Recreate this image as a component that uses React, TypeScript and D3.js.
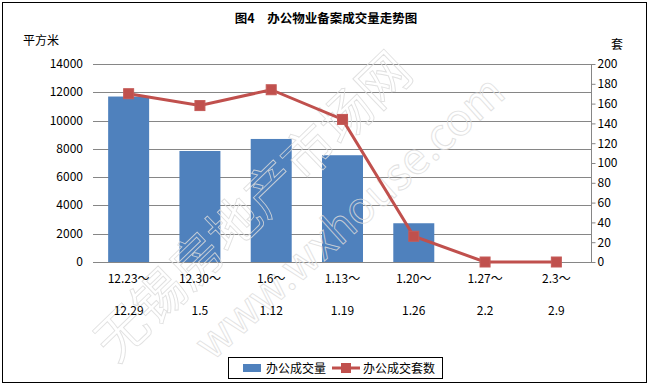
import React, { useEffect, useRef } from 'react';
import * as d3 from 'd3';

// data
const labelsTop = ['12.23～', '12.30～', '1.6～', '1.13～', '1.20～', '1.27～', '2.3～'];
const labelsBottom = ['12.29', '1.5', '1.12', '1.19', '1.26', '2.2', '2.9'];
const areaValues = [11700, 7850, 8700, 7550, 2740, 0, 0];
const unitValues = [170, 158, 174, 144, 26, 0, 0];
const leftTicks = [0, 2000, 4000, 6000, 8000, 10000, 12000, 14000];
const rightTicks = [0, 20, 40, 60, 80, 100, 120, 140, 160, 180, 200];

const W = 650, H = 386;
const FONT = '"Noto Sans CJK SC", "DejaVu Sans", sans-serif';
const BLUE = '#4F81BD', RED = '#C0504D';

const App = () => {
  const ref = useRef<SVGSVGElement>(null);

  useEffect(() => {
    document.body.style.margin = '0';
    const svg = d3.select(ref.current);
    svg.selectAll('*').remove();

    const left = 93, right = 592, top = 64, bottom = 262;
    const x = d3.scaleBand<number>().domain(d3.range(labelsTop.length)).range([left, right])
      .paddingInner(0.425).paddingOuter(0.2125);
    const yL = d3.scaleLinear().domain([0, 14000]).range([bottom, top]);
    const yR = d3.scaleLinear().domain([0, 200]).range([bottom, top]);
    const cx = (i: number) => x(i)! + x.bandwidth() / 2;

    svg.append('rect').attr('x', 0).attr('y', 0).attr('width', W).attr('height', H).attr('fill', '#fff');
    svg.append('rect').attr('x', 2.5).attr('y', 2.5).attr('width', 644).attr('height', 380)
      .attr('fill', 'none').attr('stroke', '#000').attr('stroke-width', 1);

    // title & units
    svg.append('text').attr('x', 326).attr('y', 23).attr('text-anchor', 'middle')
      .attr('font-family', FONT).attr('font-size', 12.5).attr('font-weight', 'bold')
      .text('图4　办公物业备案成交量走势图');
    svg.append('text').attr('x', 23).attr('y', 45).attr('font-family', FONT).attr('font-size', 12).text('平方米');
    svg.append('text').attr('x', 611).attr('y', 49).attr('font-family', FONT).attr('font-size', 12).text('套');

    // gridlines
    svg.append('g').selectAll('line').data(leftTicks).enter().append('line')
      .attr('x1', left).attr('x2', right)
      .attr('y1', d => Math.round(yL(d)) + 0.5).attr('y2', d => Math.round(yL(d)) + 0.5)
      .attr('stroke', '#868686').attr('stroke-width', 1);

    // left axis labels
    svg.append('g').selectAll('text').data(leftTicks).enter().append('text')
      .attr('x', 83).attr('y', d => yL(d) + 4).attr('text-anchor', 'end')
      .attr('font-family', FONT).attr('font-size', 12).text(d => d);

    // right axis
    const ra = svg.append('g').attr('transform', `translate(${right - 0.5},0)`)
      .call(d3.axisRight(yR).tickValues(rightTicks).tickSize(4).tickPadding(2));
    ra.selectAll('path,line').attr('stroke', '#868686');
    ra.select('.domain').attr('d', `M0,${top}V${bottom}`);
    ra.selectAll('text').attr('font-family', FONT).attr('font-size', 12).attr('fill', '#000');

    // bars
    svg.append('g').selectAll('rect').data(areaValues).enter().append('rect')
      .attr('x', (d, i) => x(i)!).attr('width', x.bandwidth())
      .attr('y', d => yL(d)).attr('height', d => bottom - yL(d)).attr('fill', BLUE);

    // watermark (hollow, faint)
    const wm = svg.append('g').attr('fill', 'none').attr('stroke', '#dcdcdc').attr('stroke-width', 0.9)
      .attr('opacity', 0.85).attr('font-family', FONT);
    wm.append('text').attr('transform', 'translate(116,364) rotate(-44)')
      .attr('font-size', 52).text('无锡房地产市场网');
    wm.append('text').attr('transform', 'translate(212,362) rotate(-42)')
      .attr('font-size', 44).text('www.wxhouse.com');

    // line
    const line = d3.line<number>().x((d, i) => cx(i)).y(d => yR(d));
    svg.append('path').datum(unitValues).attr('d', line).attr('fill', 'none')
      .attr('stroke', RED).attr('stroke-width', 3);
    svg.append('g').selectAll('rect').data(unitValues).enter().append('rect')
      .attr('x', (d, i) => cx(i) - 5).attr('y', d => yR(d) - 5).attr('width', 10).attr('height', 10)
      .attr('fill', RED).attr('stroke', '#c55b58').attr('stroke-width', 1);

    // x labels
    const xl = svg.append('g').attr('font-family', FONT).attr('font-size', 12).attr('text-anchor', 'middle');
    xl.selectAll('.t1').data(labelsTop).enter().append('text').attr('class', 't1')
      .attr('x', (d, i) => cx(i)).attr('y', 283).text(d => d);
    xl.selectAll('.t2').data(labelsBottom).enter().append('text').attr('class', 't2')
      .attr('x', (d, i) => cx(i)).attr('y', 315).text(d => d);

    // legend
    const lg = svg.append('g');
    lg.append('rect').attr('x', 228.5).attr('y', 357.5).attr('width', 214).attr('height', 21)
      .attr('fill', '#fff').attr('stroke', '#000');
    lg.append('rect').attr('x', 243).attr('y', 364).attr('width', 18).attr('height', 8).attr('fill', BLUE);
    lg.append('text').attr('x', 266).attr('y', 373).attr('font-family', FONT).attr('font-size', 12).text('办公成交量');
    lg.append('line').attr('x1', 332).attr('x2', 360).attr('y1', 368).attr('y2', 368)
      .attr('stroke', RED).attr('stroke-width', 3);
    lg.append('rect').attr('x', 341).attr('y', 363).attr('width', 10).attr('height', 10).attr('fill', RED);
    lg.append('text').attr('x', 363).attr('y', 373).attr('font-family', FONT).attr('font-size', 12).text('办公成交套数');
  }, []);

  return <svg ref={ref} width={W} height={H} style={{ display: 'block' }} />;
};

export default App;
